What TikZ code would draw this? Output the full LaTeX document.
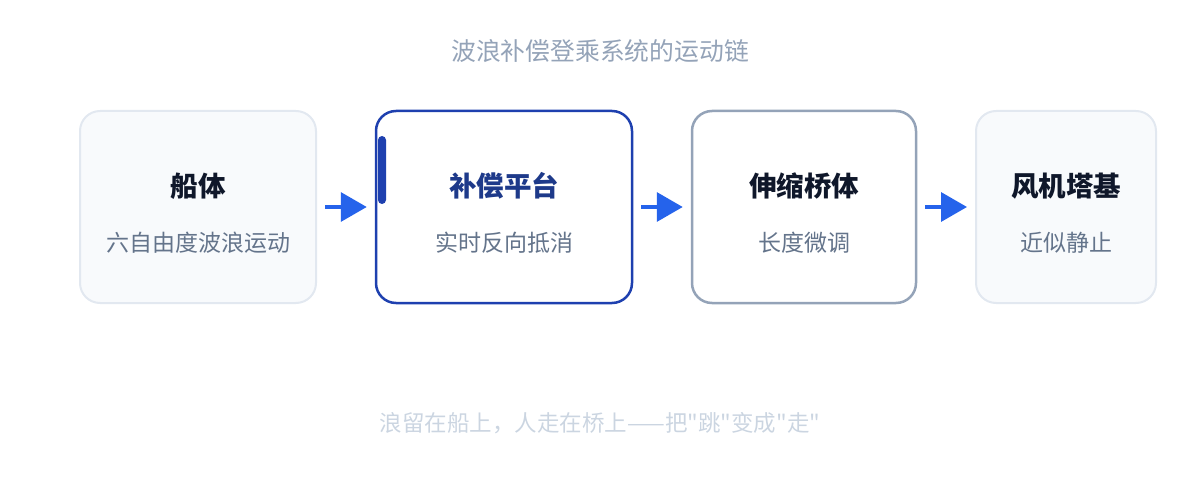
\documentclass[tikz,border=0pt]{standalone}
\usepackage{fontspec}
\setmainfont{Noto Sans CJK SC}
\newfontfamily\plaincjk{Noto Sans CJK SC}
\usetikzlibrary{arrows.meta}
\definecolor{cardfill}{HTML}{F8FAFC}
\definecolor{cardline}{HTML}{E2E8F0}
\definecolor{focusline}{HTML}{1E40AF}
\definecolor{focustext}{HTML}{1E3A8A}
\definecolor{midline}{HTML}{94A3B8}
\definecolor{titletext}{HTML}{0F172A}
\definecolor{subtext}{HTML}{64748B}
\definecolor{captext}{HTML}{94A3B8}
\definecolor{foottext}{HTML}{CBD5E1}
\definecolor{arrowblue}{HTML}{2563EB}
\tikzset{
  card/.style={rectangle, rounded corners=20pt, minimum height=192pt, inner sep=0pt},
  plaincard/.style={card, fill=cardfill, draw=cardline, line width=2pt},
  focuscard/.style={card, fill=white, draw=focusline, line width=2.5pt},
  midcard/.style={card, fill=white, draw=midline, line width=2.5pt},
  cardtitle/.style={font=\fontsize{27.5}{32}\selectfont\bfseries, text=titletext, inner sep=0pt},
  cardsub/.style={font=\fontsize{23}{27}\selectfont, text=subtext, inner sep=0pt},
  conn/.style={draw=arrowblue, line width=3.5pt, -{Triangle[length=26pt,width=29pt]}, shorten <=8pt, shorten >=8pt},
}
\begin{document}
\begin{tikzpicture}[x=1pt,y=-1pt]
\useasboundingbox (0,0) rectangle (1200,500);
\node[font=\fontsize{24.8}{29}\selectfont, text=captext, inner sep=0pt] (cap) at (600,51) {波浪补偿登乘系统的运动链};

\node[plaincard, minimum width=236pt] (b1) at (198,207) {};
\node[focuscard, minimum width=256pt] (b2) at (504,207) {};
\node[midcard, minimum width=224pt] (b3) at (804,207) {};
\node[plaincard, minimum width=180pt] (b4) at (1066,207) {};

\fill[focusline, rounded corners=4pt] (378,136) rectangle (386,204);

\node[cardtitle] (t1) at (198,186) {船体};
\node[cardsub] (s1) at (198,243) {六自由度波浪运动};
\node[cardtitle, text=focustext] (t2) at (504,186) {补偿平台};
\node[cardsub] (s2) at (504,243) {实时反向抵消};
\node[cardtitle] (t3) at (804,186) {伸缩桥体};
\node[cardsub] (s3) at (804,243) {长度微调};
\node[cardtitle] (t4) at (1066,186) {风机塔基};
\node[cardsub] (s4) at (1066,243) {近似静止};

\draw[conn] (b1) -- (b2);
\draw[conn] (b2) -- (b3);
\draw[conn] (b3) -- (b4);

\node[font=\plaincjk\fontsize{22.5}{26}\selectfont, text=foottext, inner sep=0pt] (foot) at (600,423) {浪留在船上，人走在桥上——把"跳"变成"走"};
\end{tikzpicture}
\end{document}
